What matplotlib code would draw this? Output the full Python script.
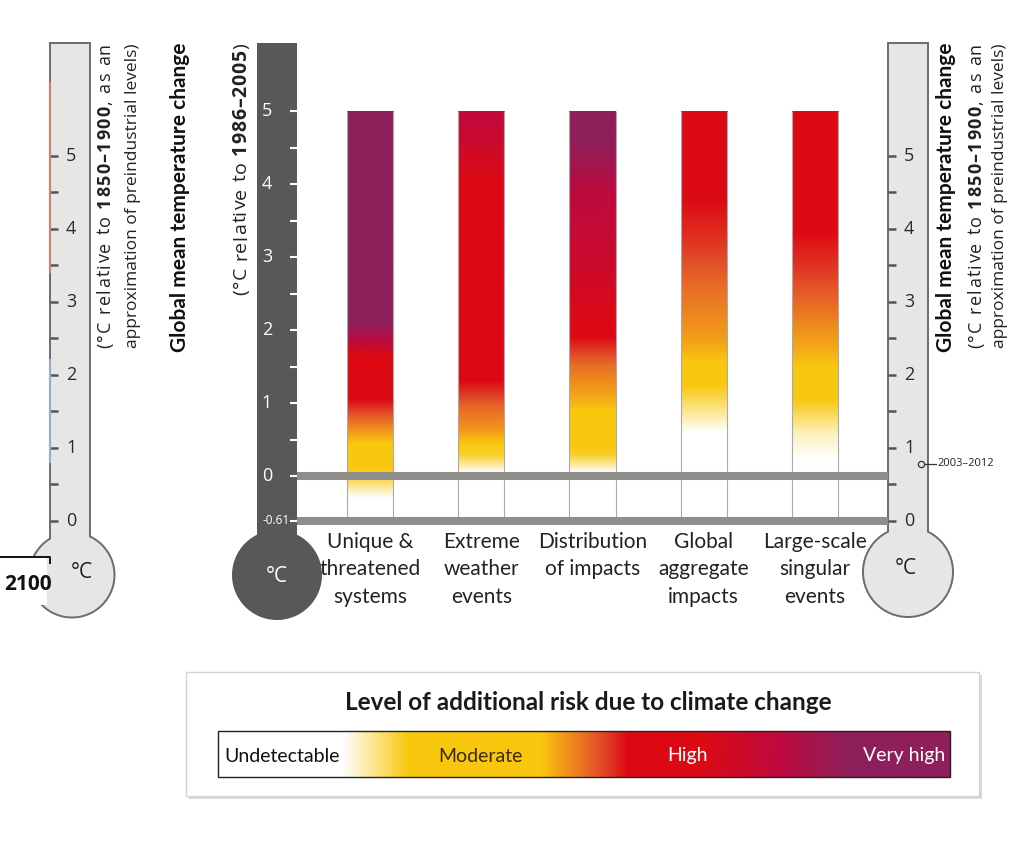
import numpy as np
import matplotlib.pyplot as plt
from matplotlib.colors import LinearSegmentedColormap
from matplotlib.patches import Rectangle, Circle

plt.rcParams['font.family'] = ['Open Sans', 'DejaVu Sans']
NARROW = ['Lato', 'DejaVu Sans']

# reasons for concern
categories = ['Unique &\nthreatened\nsystems', 'Extreme\nweather\nevents',
              'Distribution\nof impacts', 'Global\naggregate\nimpacts',
              'Large-scale\nsingular\nevents']

# risk transitions
# temperature in degC relative to 1986-2005, level 0=undetectable 1=moderate 2=high 3=very high
risk_temps = [
    [-0.30, 0.00, 0.10, 0.45, 0.75, 1.05, 1.65, 1.85, 2.10, 5.00],
    [0.05, 0.30, 0.45, 0.65, 0.90, 1.30, 4.10, 4.60, 5.00],
    [0.05, 0.30, 0.40, 0.90, 1.10, 1.50, 1.90, 2.10, 3.00, 3.90, 4.60, 5.00],
    [0.60, 0.85, 1.25, 1.55, 1.90, 2.55, 3.20, 3.80, 5.00],
    [0.25, 0.60, 1.05, 1.50, 1.80, 2.30, 2.85, 3.35, 5.00],
]
risk_levels = [
    [0.0, 0.85, 1.0, 1.0, 1.5, 2.0, 2.0, 2.5, 3.0, 3.0],
    [0.0, 0.9, 1.0, 1.3, 1.5, 2.0, 2.0, 2.3, 2.45],
    [0.0, 0.9, 1.0, 1.0, 1.2, 1.5, 2.0, 2.0, 2.3, 2.5, 3.0, 3.0],
    [0.0, 0.4, 1.0, 1.0, 1.25, 1.5, 1.8, 2.0, 2.0],
    [0.0, 0.3, 1.0, 1.0, 1.2, 1.5, 1.8, 2.0, 2.0],
]
bar_top = 5.0

offset_preindustrial = 0.61       # 1986-2005 minus 1850-1900
obs_2003_2012 = 0.78              # relative to 1850-1900
rcp26_2100 = (0.8, 2.2)
rcp85_2100 = (3.4, 6.0)

legend_labels = ['Undetectable', 'Moderate', 'High', 'Very high']
legend_label_pos = [0.088, 0.358, 0.642, 0.938]
legend_pos = [0.0, 0.17, 0.26, 0.44, 0.56, 0.66, 0.77, 0.86, 1.0]
legend_lvl = [0.0, 0.0, 1.0, 1.0, 2.0, 2.0, 2.5, 3.0, 3.0]

risk_cmap = LinearSegmentedColormap.from_list('risk', [
    (0.0, '#FFFFFF'), (1 / 3, '#F9C80E'), (0.44, '#F0901C'), (0.56, '#E2502A'),
    (2 / 3, '#DC0A14'), (0.83, '#BE0A3E'), (1.0, '#8E1F5A')])

# layout (pixels)
W, H = 1012, 852
Y0, PX = 476, 73          # pixel row of 0 degC, pixels per degC
BAR_X0, BAR_DX = 370, 111.25
BAR_HW = 0.207
XLO, XHI = -0.66, 4.66
TLO, THI = -0.75, 5.1
TOP = 43
LIGHT, EDGE, DARK = '#E6E6E4', '#6B6B6B', '#58585A'
BAND = '#8E8E8A'


def py(t):
    return Y0 - PX * t


fig = plt.figure(figsize=(W / 100, H / 100), dpi=100)
bg = fig.add_axes([0, 0, 1, 1])
bg.set_xlim(0, W)
bg.set_ylim(H, 0)
bg.axis('off')
renderer = fig.canvas.get_renderer()


def vtext(xb, ytop, s, size, weight='normal', color='#222222', family=None):
    t = bg.text(xb, ytop, s, rotation=90, rotation_mode='anchor', ha='right',
                va='baseline', fontsize=size, fontweight=weight, color=color, family=family)
    return t.get_window_extent(renderer).height


def vtrack(xb, ytop, segments, size, target, color='#222222'):
    # rotated, letter-spaced text (mixed weights) filling exactly `target` pixels
    chars = [(ch, w) for s, w in segments for ch in s]
    space = size * 0.36
    texts, lens = [], []
    for ch, w in chars:
        if ch == ' ':
            texts.append(None)
            lens.append(space)
            continue
        t = bg.text(xb, ytop, ch, rotation=90, rotation_mode='anchor', ha='right',
                    va='baseline', fontsize=size, fontweight=w, color=color)
        texts.append(t)
        lens.append(t.get_window_extent(renderer).height)
    track = (target - sum(lens)) / (len(chars) - 1)
    y = ytop
    for t, ln in zip(texts[::-1], lens[::-1]):
        if t is not None:
            t.set_y(y)
        y += ln + track


def light_thermo(xl, xr, cx, cy, r, deg_x):
    bg.add_patch(Rectangle((xl, TOP), xr - xl, cy - TOP, fc=LIGHT, ec=EDGE, lw=1.4, zorder=1))
    bg.add_patch(Circle((cx, cy), r, fc=LIGHT, ec=EDGE, lw=1.4, zorder=2))
    bg.add_patch(Rectangle((xl + 1.2, cy - r - 3), xr - xl - 2.4, 12, fc=LIGHT, ec='none', zorder=3))
    for v in np.arange(0, 5.01, 0.5):
        y = py(v - offset_preindustrial)
        bg.plot([xl, xl + 8], [y, y], color='#555555', lw=1.8, zorder=4, solid_capstyle='butt')
        if v == int(v):
            bg.text(xl + 16, y, str(int(v)), ha='left', va='center', fontsize=13,
                    color='#2A2A2A', zorder=4)
    bg.text(deg_x, cy - 3, '°C', ha='center', va='center', fontsize=15, color='#222222', zorder=4)


line1 = [('(°C relative to ', 'normal'), ('1850–1900', 'bold'), (', as an', 'normal')]
line2 = 'approximation of preindustrial levels)'

# left thermometer (2100 projections)
light_thermo(50, 90, 72, 575, 42.5, 82)
bg.plot([50.5, 50.5], [py(rcp85_2100[0] - offset_preindustrial), py(rcp85_2100[1] - offset_preindustrial)],
        color='#E8876E', lw=1.6, alpha=0.8, zorder=5)
bg.plot([50.5, 50.5], [py(rcp26_2100[0] - offset_preindustrial), py(rcp26_2100[1] - offset_preindustrial)],
        color='#9DB3D8', lw=1.6, alpha=0.9, zorder=5)
bg.add_patch(Rectangle((0, 557), 47, 48, fc='white', ec='none', zorder=5))
bg.plot([0, 50, 50], [557, 557, 563], color='#111111', lw=1.4, zorder=6)
bg.text(28, 585, '2100', ha='center', va='center', fontsize=15, fontweight='bold',
        color='#111111', zorder=6)
L2 = vtext(137, TOP, line2, 12.5)
vtrack(110, TOP, line1, 13, L2)
vtext(186, TOP, 'Global mean temperature change', 15, 'bold', '#111111', NARROW)

# right thermometer
light_thermo(888, 928, 908, 572, 45, 906)
yo = py(obs_2003_2012 - offset_preindustrial)
bg.plot([924, 936], [yo, yo], color='#333333', lw=0.9, zorder=5)
bg.plot([921], [yo], 'o', ms=4.5, mfc=LIGHT, mec='#333333', mew=0.9, zorder=6)
bg.text(937, yo, '2003–2012', ha='left', va='center', fontsize=8, color='#222222')
vtext(952, TOP, 'Global mean temperature change', 15, 'bold', '#111111', NARROW)
vtext(1004, TOP, line2, 12.5)
vtrack(981, TOP, line1, 13, L2)

# dark thermometer (relative to 1986-2005)
bg.add_patch(Rectangle((257, TOP), 40, 575 - TOP, fc=DARK, ec='none', zorder=1))
bg.add_patch(Circle((277, 575), 45, fc=DARK, ec='none', zorder=1))
for v in np.arange(0, 5.01, 0.5):
    bg.plot([290, 297], [py(v), py(v)], color='white', lw=1.5, zorder=4, solid_capstyle='butt')
    if v == int(v):
        bg.text(267, py(v), str(int(v)), ha='center', va='center', fontsize=13, color='white', zorder=4)
bg.plot([291, 297], [py(-offset_preindustrial)] * 2, color='white', lw=1.5, zorder=4)
bg.text(290, py(-offset_preindustrial), '-0.61', ha='right', va='center', fontsize=8.5,
        color='white', zorder=4)
bg.text(277, 576, '°C', ha='center', va='center', fontsize=15, color='white', zorder=4)
vtrack(246, TOP, [('(°C relative to ', 'normal'), ('1986–2005', 'bold'), (')', 'normal')], 14, 252)

# risk bars
ax = fig.add_axes([(BAR_X0 + BAR_DX * XLO) / W, (H - py(TLO)) / H,
                   BAR_DX * (XHI - XLO) / W, PX * (THI - TLO) / H])
ax.patch.set_visible(False)
ts = np.linspace(-offset_preindustrial, bar_top, 600)
for i in range(len(categories)):
    lvl = np.interp(ts, risk_temps[i], risk_levels[i], left=0.0)
    img = risk_cmap(lvl / 3.0)[:, None, :]
    ax.imshow(img, extent=(i - BAR_HW, i + BAR_HW, -offset_preindustrial, bar_top),
              origin='lower', aspect='auto', interpolation='bilinear', zorder=1)
    ax.vlines([i - BAR_HW, i + BAR_HW], -offset_preindustrial, bar_top,
              color='#AAAAAA', lw=0.8, zorder=2)
ax.axhline(0, color=BAND, lw=5.8, zorder=3)
ax.axhline(-offset_preindustrial, color=BAND, lw=5.8, zorder=3)
ax.set_xlim(XLO, XHI)
ax.set_ylim(TLO, THI)
ax.set_yticks([])
ax.set_xticks(range(len(categories)))
ax.set_xticklabels(categories, fontsize=15, family=NARROW, color='#222222', linespacing=1.45)
ax.tick_params(axis='x', length=0, pad=1)
for s in ax.spines.values():
    s.set_visible(False)

# legend
bg.add_patch(Rectangle((189, 675), 793, 124, fc='#D8D8D6', ec='none', zorder=1))
bg.add_patch(Rectangle((186, 672), 793, 124, fc='white', ec='#D4D4D2', lw=1.0, zorder=2))
bg.text(588, 703, 'Level of additional risk due to climate change', ha='center', va='center',
        fontsize=17.5, fontweight='bold', family=NARROW, color='#1A1A1A', zorder=3)
lx = np.linspace(0, 1, 800)
limg = risk_cmap(np.interp(lx, legend_pos, legend_lvl) / 3.0)[None, :, :]
bg.imshow(limg, extent=(218, 950, 777, 731), aspect='auto', interpolation='bilinear', zorder=3)
bg.add_patch(Rectangle((218, 731), 732, 46, fc='none', ec='#222222', lw=1.0, zorder=4))
for lab, p, c in zip(legend_labels, legend_label_pos, ['#111111', '#3A2A00', 'white', 'white']):
    bg.text(218 + 732 * p, 756, lab, ha='center', va='center', fontsize=14, family=NARROW,
            color=c, zorder=5)
bg.set_xlim(0, W)
bg.set_ylim(H, 0)

fig.savefig('out.png', dpi=100)
